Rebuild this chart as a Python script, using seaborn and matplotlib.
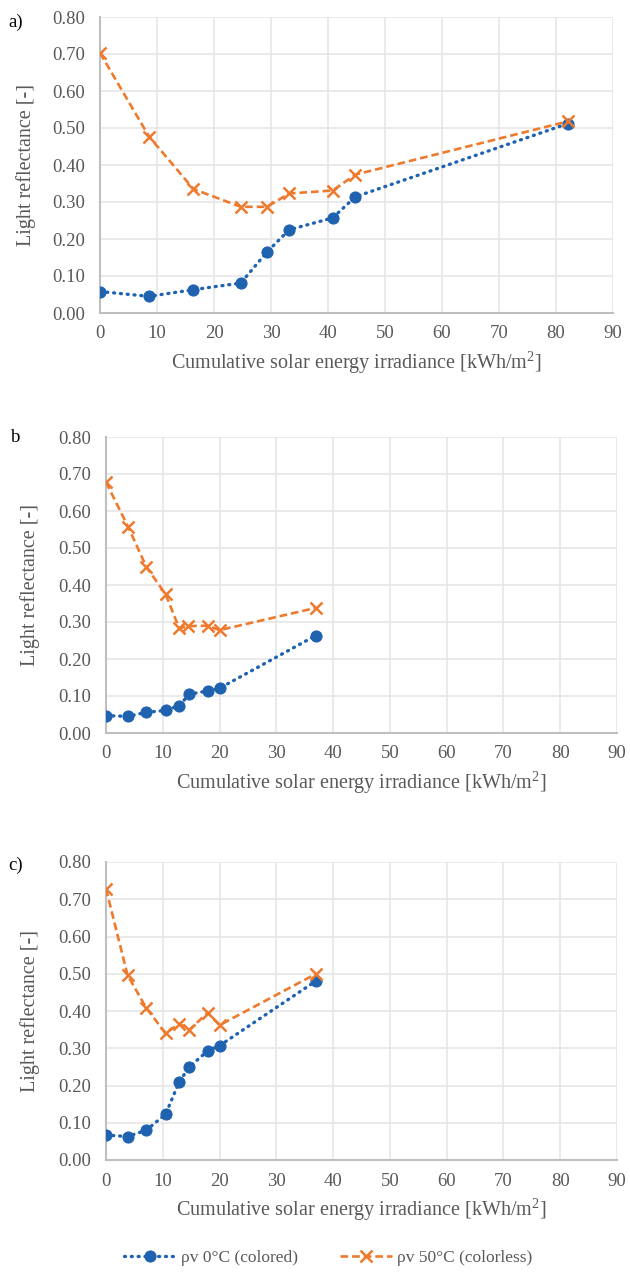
import matplotlib
matplotlib.use("Agg")
import matplotlib.pyplot as plt
import seaborn as sns
import pandas as pd

# ---- data ----
panel_labels = ["a)", "b", "c)"]
series_names = ["ρv 0°C (colored)", "ρv 50°C (colorless)"]

a_x_colored = [0, 8.6, 16.4, 24.7, 29.3, 33.2, 40.8, 44.8, 82.1]
a_y_colored = [0.058, 0.045, 0.063, 0.081, 0.165, 0.225, 0.257, 0.314, 0.512]
a_x_colorless = [0, 8.6, 16.4, 24.7, 29.3, 33.2, 40.8, 44.8, 82.1]
a_y_colorless = [0.703, 0.477, 0.335, 0.287, 0.287, 0.323, 0.331, 0.374, 0.518]

b_x_colored = [0, 3.9, 7.1, 10.5, 12.9, 14.7, 18.0, 20.0, 36.9]
b_y_colored = [0.047, 0.045, 0.056, 0.061, 0.074, 0.105, 0.114, 0.121, 0.263]
b_x_colorless = [0, 3.9, 7.1, 10.5, 12.9, 14.5, 17.9, 20.0, 36.9]
b_y_colorless = [0.678, 0.557, 0.449, 0.375, 0.283, 0.289, 0.290, 0.278, 0.338]

c_x_colored = [0, 3.8, 7.1, 10.5, 12.9, 14.7, 17.9, 20.0, 37.0]
c_y_colored = [0.067, 0.063, 0.080, 0.123, 0.210, 0.250, 0.293, 0.307, 0.481]
c_x_colorless = [0, 3.8, 7.1, 10.5, 12.9, 14.7, 17.9, 20.0, 37.0]
c_y_colorless = [0.728, 0.496, 0.408, 0.340, 0.366, 0.350, 0.395, 0.362, 0.500]

x_ticks = [0, 10, 20, 30, 40, 50, 60, 70, 80, 90]
y_ticks = [0.0, 0.1, 0.2, 0.3, 0.4, 0.5, 0.6, 0.7, 0.8]
x_label = "Cumulative solar energy irradiance [kWh/m$^2$]"
y_label = "Light reflectance [-]"

# ---- style ----
sns.set_theme(style="white")
plt.rcParams["font.family"] = ["Liberation Serif", "DejaVu Serif"]
plt.rcParams["mathtext.fontset"] = "custom"
plt.rcParams["mathtext.rm"] = "Liberation Serif"

BLUE = "#1f63b0"
ORANGE = "#ee7a2e"
GRID = "#e6e6e6"
SPINE = "#bfbfbf"
TXT = "#595959"

W, H = 630, 1273
fig = plt.figure(figsize=(W / 100, H / 100), dpi=100)

boxes = [
    (100, 613, 17, 313),
    (106, 617, 437, 733),
    (106, 617, 862, 1160),
]
label_pos = [(8, 22), (11, 437), (8, 865)]
ylabel_x = [36, 40, 40]

panels = [
    (a_x_colored, a_y_colored, a_x_colorless, a_y_colorless),
    (b_x_colored, b_y_colored, b_x_colorless, b_y_colorless),
    (c_x_colored, c_y_colored, c_x_colorless, c_y_colorless),
]

axes = []
for i, ((l, r, t, b), (xc, yc, xn, yn)) in enumerate(zip(boxes, panels)):
    ax = fig.add_axes([l / W, 1 - b / H, (r - l) / W, (b - t) / H])
    axes.append(ax)
    df_c = pd.DataFrame({"x": xc, "y": yc})
    df_n = pd.DataFrame({"x": xn, "y": yn})
    sns.lineplot(data=df_c, x="x", y="y", ax=ax, color=BLUE, lw=2.4,
                 linestyle=(0, (0.3, 1.75)), marker="o", markersize=8,
                 markeredgecolor=BLUE, markerfacecolor=BLUE,
                 dash_capstyle="round", label=series_names[0],
                 sort=False, estimator=None, zorder=3)
    sns.lineplot(data=df_n, x="x", y="y", ax=ax, color=ORANGE, lw=1.9,
                 linestyle=(0, (2.9, 1.5)), marker="x", markersize=9,
                 markeredgewidth=1.8, markeredgecolor=ORANGE,
                 label=series_names[1], sort=False, estimator=None, zorder=4)
    ax.set_xlim(0, 90)
    ax.set_ylim(0, 0.8)
    ax.set_xticks(x_ticks)
    ax.set_yticks(y_ticks)
    ax.set_yticklabels([f"{v:.2f}" for v in y_ticks])
    ax.grid(True, color=GRID, lw=1.2)
    ax.set_axisbelow(True)
    for s in ["top", "right"]:
        ax.spines[s].set_visible(False)
    for s in ["left", "bottom"]:
        ax.spines[s].set_color(SPINE)
        ax.spines[s].set_linewidth(1.5)
    ax.tick_params(axis="both", length=0, labelsize=13.5, colors=TXT)
    ax.tick_params(axis="y", pad=11)
    ax.tick_params(axis="x", pad=9)
    ax.set_xlabel(x_label, fontsize=14.5, color=TXT, labelpad=5)
    ax.set_ylabel(y_label, fontsize=14.5, color=TXT)
    ax.yaxis.set_label_coords(ylabel_x[i] / W, 1 - ((t + b) / 2) / H,
                              transform=fig.transFigure)
    ax.get_legend().remove()
    lx, ly = label_pos[i]
    fig.text(lx / W, 1 - ly / H, panel_labels[i], fontsize=13.5,
             color="black", va="center", ha="left")

handles, labels = axes[2].get_legend_handles_labels()
fig.legend(handles, labels, loc="center", bbox_to_anchor=(328 / W, 1 - 1258 / H),
           ncol=2, frameon=False, fontsize=12.5, handlelength=3.0,
           columnspacing=2.4, handletextpad=0.3)
for t in fig.legends[0].get_texts():
    t.set_color(TXT)

fig.savefig("out.png", dpi=100)
